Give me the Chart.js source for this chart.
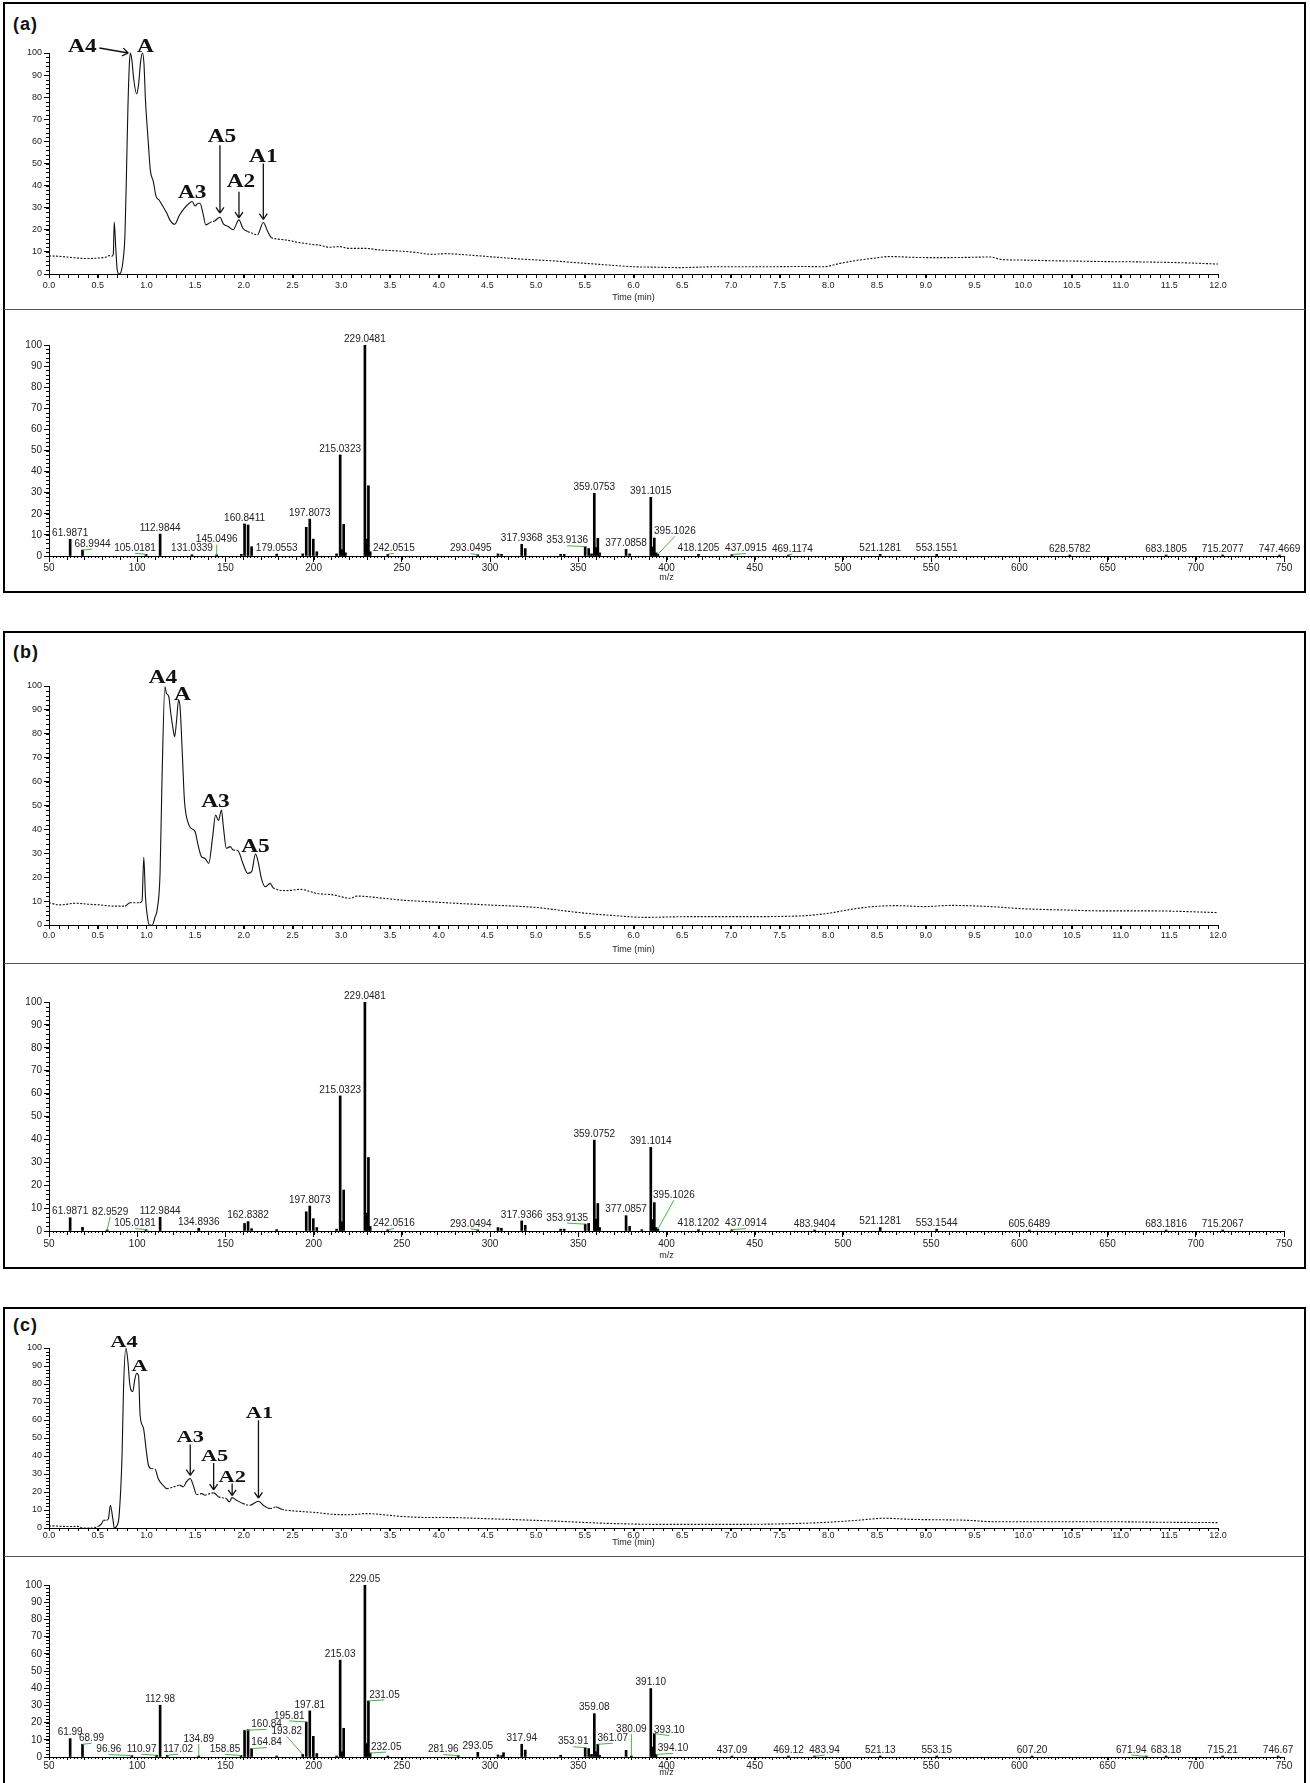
<!DOCTYPE html>
<html>
<head>
<meta charset="utf-8">
<script src="https://cdn.jsdelivr.net/npm/chart.js@4.4.1/dist/chart.umd.min.js"></script>
<style>
body{margin:0;background:#fff;width:1310px;height:1783px;overflow:hidden;position:relative}
canvas{position:absolute;left:0}
.panel{position:absolute;left:3px;width:1303px;border:2px solid #000;box-sizing:border-box}
.sep{position:absolute;left:4px;width:1301px;height:0;border-top:1.5px solid #555}
.tag{position:absolute;left:13px;font:bold 18px "Liberation Sans",Arial,sans-serif;line-height:18px;letter-spacing:1px;color:#111}
</style>
</head>
<body>
<div class="panel" style="top:2px;height:591px"></div>
<div class="panel" style="top:631px;height:638px"></div>
<div class="panel" style="top:1307px;height:490px"></div>
<div class="sep" style="top:309px"></div>
<div class="sep" style="top:963px"></div>
<div class="sep" style="top:1556px"></div>
<div class="tag" style="top:15px">(a)</div>
<div class="tag" style="top:643px">(b)</div>
<div class="tag" style="top:1316px">(c)</div>

<canvas id="chromA"></canvas>
<canvas id="specA"></canvas>
<canvas id="chromB"></canvas>
<canvas id="specB"></canvas>
<canvas id="chromC"></canvas>
<canvas id="specC"></canvas>

<script>
// ---- chromatograms (time in min, relative abundance %) ----
const timeA = [0, 0.1, 0.2, 0.3, 0.4, 0.5, 0.58, 0.62, 0.645, 0.66, 0.67, 0.685, 0.70, 0.72, 0.74, 0.76, 0.78, 0.795, 0.81, 0.825,
  0.835, 0.85, 0.87, 0.90, 0.92, 0.94, 0.96, 0.975, 0.99, 1.02, 1.04, 1.07, 1.10, 1.13, 1.17, 1.21, 1.24, 1.29, 1.34, 1.39,
  1.44, 1.47, 1.50, 1.53, 1.55, 1.58, 1.61, 1.65, 1.70, 1.755, 1.79, 1.84, 1.89, 1.95, 1.99, 2.04, 2.09, 2.14, 2.2, 2.245,
  2.28, 2.33, 2.43, 2.57, 2.70, 2.77, 2.88, 2.98, 3.08, 3.25, 3.39, 3.59, 3.76, 3.93, 4.07, 4.3, 4.59, 4.9, 5.15, 5.45,
  5.73, 6.0, 6.2, 6.47, 6.87, 7.2, 7.44, 7.7, 7.95, 8.12, 8.3, 8.46, 8.63, 8.9, 9.15, 9.4, 9.66, 9.77, 10.0, 10.29,
  10.6, 10.86, 11.15, 11.43, 11.7, 12.0];
const ticA = [8.2, 8.0, 7.6, 7.2, 7.0, 7.2, 7.6, 8.3, 8.0, 9.0, 23.5, 12, 2, 0, 1, 6, 18, 45, 75, 95,
  100, 97, 88, 81.5, 86, 96, 100, 95, 79, 59, 47, 42, 35, 33.5, 30.5, 27.5, 24.5, 22.5, 26.7, 29.8,
  32, 32.8, 30.8, 32, 32, 27.5, 22.2, 23.2, 24, 25.7, 22.7, 21.5, 20, 24.5, 20.7, 19.2, 18.4, 17.7, 23.3, 19.2,
  16.6, 15.9, 15.4, 14.2, 13.4, 13.1, 12.1, 12.4, 11.6, 11.6, 10.9, 10.4, 9.8, 8.9, 9.2, 8.6, 7.6, 6.6, 6.0, 5.0,
  4.1, 3.3, 3.1, 2.9, 3.3, 3.3, 3.3, 3.4, 3.3, 4.8, 6.2, 7.1, 7.9, 7.5, 7.4, 7.5, 7.7, 6.6, 6.3, 6.0,
  5.8, 5.6, 5.5, 5.3, 5.0, 4.5];
const peakNamesA = ['A4', 'A', 'A3', 'A5', 'A2', 'A1'];
const peakTimesA = [0.835, 0.96, 1.47, 1.755, 1.95, 2.2];

const timeB = [0, 0.11, 0.28, 0.4, 0.52, 0.66, 0.78, 0.83, 0.93, 0.955, 0.973, 0.99, 1.01, 1.03, 1.06, 1.09, 1.11, 1.14, 1.16, 1.19,
  1.205, 1.23, 1.25, 1.27, 1.29, 1.31, 1.33, 1.345, 1.37, 1.39, 1.43, 1.46, 1.50, 1.53, 1.565, 1.60, 1.64, 1.68, 1.71, 1.74,
  1.77, 1.79, 1.82, 1.86, 1.89, 1.94, 1.99, 2.04, 2.08, 2.12, 2.15, 2.18, 2.22, 2.27, 2.30, 2.44, 2.58, 2.75, 2.92, 3.09,
  3.16, 3.43, 3.60, 3.88, 4.08, 4.5, 4.98, 5.44, 5.78, 6.13, 6.58, 7.15, 7.72, 8.0, 8.24, 8.46, 8.69, 8.98, 9.26, 9.66,
  10.0, 10.4, 10.86, 11.32, 12.0];
const ticB = [9.3, 8.4, 9.1, 8.7, 8.4, 7.9, 7.9, 9.3, 9.3, 10, 28.3, 11.9, 3.5, 0, 0, 3.5, 6.3, 21.6, 60.7, 99.7,
  97, 95.5, 88.6, 83, 78.8, 85.8, 94.1, 91.4, 70.4, 52.3, 42.5, 40.4, 39, 33.5, 28.6, 27.9, 25.8, 37, 46, 43.7,
  48.1, 41.1, 32.1, 32.8, 31.4, 31.1, 25.8, 21.6, 22.3, 29.7, 25.8, 19.5, 16, 17.4, 15.6, 14.4, 14.9, 13.2, 12.6, 11.2,
  12.1, 11.2, 10.5, 9.8, 9.3, 8.4, 7.4, 5.2, 4.0, 3.2, 3.5, 3.5, 3.8, 4.9, 6.6, 7.7, 8.1, 7.7, 8.2, 7.7,
  6.8, 6.3, 5.9, 5.9, 5.2];
const peakNamesB = ['A4', 'A', 'A3', 'A5'];
const peakTimesB = [1.19, 1.33, 1.77, 2.12];

const timeC = [0, 0.05, 0.1, 0.2, 0.29, 0.35, 0.45, 0.51, 0.54, 0.56, 0.59, 0.61, 0.63, 0.655, 0.67, 0.70, 0.72, 0.75, 0.765, 0.79,
  0.81, 0.83, 0.86, 0.88, 0.90, 0.92, 0.935, 0.97, 1.0, 1.02, 1.05, 1.09, 1.12, 1.17, 1.21, 1.28, 1.34, 1.38, 1.41, 1.45,
  1.48, 1.515, 1.57, 1.60, 1.65, 1.69, 1.74, 1.79, 1.82, 1.85, 1.88, 1.925, 1.99, 2.06, 2.15, 2.20, 2.27, 2.33, 2.39, 2.51,
  2.74, 2.91, 3.09, 3.26, 3.43, 3.6, 3.94, 4.07, 4.59, 5.16, 5.72, 6.29, 6.86, 7.44, 8.0, 8.3, 8.57, 8.85, 9.42, 9.7,
  10.27, 10.84, 11.41, 12.0];
const ticC = [1.1, 1.2, 1.0, 0.8, 0.9, 0, 0, 1.0, 2.4, 4.3, 4.3, 5.2, 12.6, 5.2, 0, 1.5, 7, 40.5, 77.7, 100,
  92.5, 79.6, 75.8, 82.3, 86, 84.2, 62.8, 55.4, 42.4, 35, 33, 32.7, 27.5, 23.8, 21.9, 22.9, 23.8, 22.9, 25.6, 27.5,
  23.8, 18.6, 19.1, 18.2, 19.1, 19.5, 17.3, 16.7, 16.4, 14.5, 16.9, 15.4, 13.6, 12.6, 14.9, 12.6, 10.8, 11.7, 10.4, 9.5,
  8.6, 7.6, 7.4, 8.0, 7.4, 6.5, 5.8, 5.8, 5.0, 3.9, 2.6, 2.0, 2.0, 2.2, 3.2, 4.3, 5.4, 4.8, 4.3, 3.5,
  3.5, 3.5, 3.2, 3.0];
const peakNamesC = ['A4', 'A', 'A3', 'A5', 'A2', 'A1'];
const peakTimesC = [0.79, 0.90, 1.45, 1.69, 1.88, 2.15];

// ---- mass spectra (m/z, relative intensity %) ----
const mzA = [61.9871, 68.9944, 105.0181, 112.9844, 131.0339, 145.0496, 159.0, 160.8411, 162.84, 164.84, 179.0553, 193.8, 195.81,
  197.8073, 199.81, 201.8, 213.0, 215.0323, 216.0, 217.03, 218.0, 229.0481, 230.05, 231.05, 232.05, 242.0515, 293.0495,
  304.5, 306.5, 317.9368, 319.94, 340.0, 342.0, 353.9136, 355.9, 357.5, 359.0753, 360.08, 361.07, 362.1, 377.0858, 379.1,
  391.1015, 392.1, 393.1, 394.1, 395.1026, 418.1205, 437.0915, 469.1174, 521.1281, 553.1551, 628.5782, 683.1805, 715.2077, 747.4669];
const intA = [7.9, 2.8, 0.8, 10.4, 0.6, 0.6, 0.8, 15.2, 14.7, 4.4, 0.9, 1.0, 13.6,
  17.5, 8.0, 2.0, 1.0, 47.9, 3.0, 15.0, 1.5, 100, 8.0, 33.3, 2.0, 0.8, 0.6,
  1.0, 0.8, 5.5, 3.5, 0.8, 0.8, 4.4, 3.5, 1.0, 29.7, 4.0, 8.4, 1.5, 3.2, 1.0,
  27.8, 4.3, 8.5, 1.5, 0.8, 0.8, 0.7, 0.4, 0.8, 0.8, 0.3, 0.3, 0.3, 0.3];
const labelsA = ['61.9871', '68.9944', '105.0181', '112.9844', '131.0339', '145.0496', '160.8411', '179.0553', '197.8073',
  '215.0323', '229.0481', '242.0515', '293.0495', '317.9368', '353.9136', '359.0753', '377.0858', '391.1015', '395.1026',
  '418.1205', '437.0915', '469.1174', '521.1281', '553.1551', '628.5782', '683.1805', '715.2077', '747.4669'];

const mzB = [61.9871, 68.99, 82.9529, 105.0181, 112.9844, 134.8936, 160.84, 162.8382, 164.84, 179.05, 195.81, 197.8073, 199.81,
  201.8, 213.0, 215.0323, 216.0, 217.03, 229.0481, 230.05, 231.05, 232.05, 242.0516, 293.0494, 304.5, 306.4, 317.9366,
  319.94, 340.0, 342.0, 353.9135, 355.9, 359.0752, 360.08, 361.07, 362.1, 377.0857, 379.1, 386.0, 391.1014, 392.1, 393.1,
  394.1, 395.1026, 418.1202, 437.0914, 483.9404, 521.1281, 553.1544, 605.6489, 683.1816, 715.2067];
const intB = [5.8, 1.6, 0.5, 0.6, 6.0, 1.2, 3.3, 4.1, 1.0, 0.6, 8.4, 10.9, 5.4,
  1.5, 0.8, 59, 4, 17.9, 100, 7.8, 32.1, 2.0, 0.6, 0.5, 1.5, 1.2, 4.4,
  2.5, 0.8, 0.8, 3.0, 3.3, 39.7, 5.2, 12, 1.5, 6.7, 2.0, 0.6, 36.5, 5, 12.4,
  1.5, 0.8, 0.6, 0.6, 0.4, 1.5, 0.8, 0.3, 0.3, 0.3];
const labelsB = ['61.9871', '82.9529', '105.0181', '112.9844', '134.8936', '162.8382', '197.8073', '215.0323', '229.0481',
  '242.0516', '293.0494', '317.9366', '353.9135', '359.0752', '377.0857', '391.1014', '395.1026', '418.1202', '437.0914',
  '483.9404', '521.1281', '553.1544', '605.6489', '683.1816', '715.2067'];

const mzC = [61.99, 68.99, 96.96, 110.97, 112.98, 117.02, 134.89, 158.85, 160.84, 162.84, 164.84, 179.05, 193.82, 195.81,
  197.81, 199.81, 201.8, 213.0, 215.03, 216.0, 217.03, 229.05, 230.05, 231.05, 232.05, 242.05, 281.96, 293.05, 304.5,
  306.5, 307.6, 317.94, 319.94, 340.0, 353.91, 355.9, 357.5, 359.08, 360.08, 361.07, 362.1, 377.09, 380.09, 391.10,
  392.1, 393.10, 394.10, 437.09, 469.12, 483.94, 521.13, 553.15, 607.20, 671.94, 683.18, 715.21, 746.67];
const intC = [10.7, 7.4, 0.8, 1.0, 30.1, 1.0, 0.6, 0.9, 15.5, 15.9, 4.9, 0.6, 1.5, 20.4,
  26.8, 12, 2, 0.6, 56.3, 3, 16.7, 100, 7.8, 32.6, 2.3, 0.5, 0.8, 2.7, 1.2,
  0.8, 2.5, 7.4, 4, 1, 5.4, 4.9, 1.5, 25.2, 3, 7.4, 1, 3.9, 0.6, 39.8,
  5.8, 13.6, 1.5, 0.5, 0.6, 0.4, 0.6, 0.6, 0.3, 0.3, 0.3, 0.3, 0.3];
const labelsC = ['61.99', '68.99', '96.96', '110.97', '112.98', '117.02', '134.89', '158.85', '160.84', '164.84', '193.82',
  '195.81', '197.81', '215.03', '229.05', '231.05', '232.05', '281.96', '293.05', '317.94', '353.91', '359.08', '361.07',
  '380.09', '391.10', '393.10', '394.10', '437.09', '469.12', '483.94', '521.13', '553.15', '607.20', '671.94', '683.18',
  '715.21', '746.67'];

// ---- layout only: label shifts in px (green leader lines), text/arrow offsets ----
const nudgeA = {'68.9944': [10, 0], '105.0181': [-11, 0], '145.0496': [0, -9], '242.0515': [6, 0], '293.0495': [-7, 0],
  '353.9136': [-18, 0], '395.1026': [17, -17], '437.0915': [14, 0], '469.1174': [4, 0]};
const nudgeB = {'82.9529': [3, -12], '105.0181': [-11, 0], '242.0516': [6, 0], '293.0494': [-7, 0], '353.9135': [-18, 0],
  '395.1026': [16, -28], '437.0914': [14, 0]};
const nudgeC = {'68.99': [9, 0], '96.96': [-23, 0], '110.97': [-15, 0], '117.02': [11, 0], '134.89': [0, -11],
  '158.85': [-16, 0], '160.84': [22, 0], '164.84': [15, 0], '193.82': [-16, -17], '195.81': [-17, 0], '231.05': [16, 0],
  '232.05': [16, 0], '281.96': [-15, 0], '353.91': [-12, 0], '361.07': [15, 0], '380.09': [0, -21], '393.10': [15, 3],
  '394.10': [17, 0], '483.94': [10, 0], '671.94': [-15, 0]};

const annLayoutA = [{dx: -48, dy: -1, arrow: [-31, -5, -2, 0]}, {dx: 3, dy: -1}, {dx: 0, dy: -4},
  {dx: 2, dy: -75, arrow: [0, -72, 0, -4]}, {dx: 2, dy: -33, arrow: [0, -28, 0, -2]}, {dx: 0, dy: -61, arrow: [0, -59, 0, -3]}];
const annLayoutB = [{dx: -2, dy: -4}, {dx: 4, dy: 0}, {dx: -6, dy: -3}, {dx: 0, dy: -2}];
const annLayoutC = [{dx: -2, dy: -1}, {dx: 3, dy: -2}, {dx: 0, dy: -37, arrow: [0, -34, 0, -3]},
  {dx: 1, dy: -32, arrow: [0, -30, 0, -3]}, {dx: 0, dy: -16, arrow: [0, -14, 0, -2]}, {dx: 1, dy: -83, arrow: [0, -81, 0, -3]}];

const FONT = '"Liberation Sans", Arial, sans-serif';

function nearest(arr, v) {
  let best = arr[0];
  arr.forEach(p => { if (Math.abs(p.x - v) < Math.abs(best.x - v)) best = p; });
  return best;
}

// small ticks + axis title
const minorTicks = {
  id: 'minorTicks',
  afterDraw(chart, args, o) {
    const {ctx, chartArea: a, scales: {x, y}} = chart;
    ctx.save();
    ctx.strokeStyle = '#000';
    ctx.lineWidth = 1;
    ctx.beginPath();
    (o.x || []).forEach(m => {
      const n = Math.round((x.max - x.min) / m.step);
      for (let i = 0; i <= n; i++) {
        const px = Math.round(x.getPixelForValue(x.min + i * m.step)) + 0.5;
        ctx.moveTo(px, a.bottom); ctx.lineTo(px, a.bottom + m.len);
      }
    });
    (o.y || []).forEach(m => {
      const n = Math.round((y.max - y.min) / m.step);
      for (let i = 0; i <= n; i++) {
        const py = Math.round(y.getPixelForValue(y.min + i * m.step)) + 0.5;
        ctx.moveTo(a.left - m.len, py); ctx.lineTo(a.left, py);
      }
    });
    ctx.stroke();
    ctx.fillStyle = '#222';
    ctx.font = '9px ' + FONT;
    ctx.textAlign = 'center';
    ctx.textBaseline = 'middle';
    ctx.fillText(o.title, (a.left + a.right) / 2, a.bottom + o.titleOffset);
    ctx.restore();
  }
};

// A, A1..A5 marks on the chromatograms
const peakNames = {
  id: 'peakNames',
  afterDatasetsDraw(chart, args, o) {
    const {ctx, scales: {x, y}} = chart;
    const pts = chart.data.datasets[0].data;
    ctx.save();
    ctx.fillStyle = '#111';
    ctx.strokeStyle = '#111';
    ctx.lineWidth = 1.3;
    ctx.font = 'bold ' + o.size + 'px "Liberation Serif", "Times New Roman", serif';
    ctx.textAlign = 'center';
    o.names.forEach((name, i) => {
      const p = nearest(pts, o.times[i]);
      const px = x.getPixelForValue(p.x), py = y.getPixelForValue(p.y);
      const L = o.layout[i];
      ctx.save();
      ctx.translate(px + L.dx, py + L.dy);
      ctx.scale(o.stretch, 1);
      ctx.fillText(name, 0, 0);
      ctx.restore();
      if (L.arrow) {
        const ax = px + L.arrow[0], ay = py + L.arrow[1], bx = px + L.arrow[2], by = py + L.arrow[3];
        const ang = Math.atan2(by - ay, bx - ax);
        ctx.beginPath();
        ctx.moveTo(ax, ay); ctx.lineTo(bx, by);
        [-1, 1].forEach(s => {
          const h = ang + Math.PI + s * 0.6;
          ctx.moveTo(bx, by); ctx.lineTo(bx + 7 * Math.cos(h), by + 7 * Math.sin(h));
        });
        ctx.stroke();
      }
    });
    ctx.restore();
  }
};

// m/z value labels on the spectra
const mzLabels = {
  id: 'mzLabels',
  afterDatasetsDraw(chart, args, o) {
    const {ctx, chartArea: a, scales: {x, y}} = chart;
    const pts = chart.data.datasets[0].data;
    ctx.save();
    ctx.font = '10px ' + FONT;
    ctx.textAlign = 'center';
    ctx.textBaseline = 'middle';
    o.labels.forEach(txt => {
      const p = nearest(pts, parseFloat(txt));
      const px = x.getPixelForValue(p.x), top = y.getPixelForValue(p.y);
      const nd = o.nudge[txt];
      const cx = px + (nd ? nd[0] : 0);
      const cy = Math.min(top - 6, a.bottom - 7) + (nd ? nd[1] : 0);
      if (nd) {
        ctx.strokeStyle = '#3cb93c';
        ctx.lineWidth = 1;
        ctx.beginPath();
        ctx.moveTo(cx, cy + 5);
        ctx.lineTo(px, Math.min(top, a.bottom));
        ctx.stroke();
      }
      ctx.fillStyle = '#222';
      ctx.fillText(txt, cx, cy);
    });
    ctx.restore();
  }
};

const dotted = c => Math.abs(c.p1.y - c.p0.y) < 0.4 * Math.abs(c.p1.x - c.p0.x) ? [2, 1.5] : undefined;

function setCanvas(id, top, height) {
  const cv = document.getElementById(id);
  cv.width = 1310; cv.height = height;
  cv.style.top = top + 'px';
  return cv;
}

// padding so that the plot area lands on the given page pixels
function frame(top, height, y100, y0, right) {
  return {top: y100 - top, bottom: height - (y0 - top) - 20, left: 9, right: 1310 - right};
}

function yAxis(size) {
  return {
    min: 0, max: 100,
    afterFit: s => { s.width = 40; },
    border: {color: '#000'},
    grid: {drawOnChartArea: false, tickLength: 5, color: '#000'},
    ticks: {stepSize: 10, autoSkip: false, padding: 2, color: '#222', font: {family: FONT, size: size}}
  };
}

function chrom(id, top, height, y100, y0, times, tic, names, ptimes, layout, opt) {
  return new Chart(setCanvas(id, top, height), {
    type: 'line',
    data: {datasets: [{
      data: times.map((t, i) => ({x: t, y: tic[i]})),
      borderColor: '#111', borderWidth: 1.1, pointRadius: 0,
      cubicInterpolationMode: 'monotone', clip: 6,
      segment: {borderDash: dotted}
    }]},
    options: {
      responsive: false, animation: false, events: [],
      layout: {autoPadding: false, padding: frame(top, height, y100, y0, 1218)},
      plugins: {
        legend: {display: false}, tooltip: {enabled: false},
        minorTicks: {x: [{step: 0.1, len: opt.tick}], y: [{step: 2, len: 3}], title: 'Time (min)', titleOffset: opt.title},
        peakNames: {names: names, times: ptimes, layout: layout, size: opt.size, stretch: opt.stretch}
      },
      scales: {
        x: {
          type: 'linear', min: 0, max: 12,
          afterFit: s => { s.height = 20; },
          border: {color: '#000'},
          grid: {drawOnChartArea: false, tickLength: opt.tick, color: '#000'},
          ticks: {stepSize: 0.5, autoSkip: false, maxRotation: 0, padding: opt.pad, color: '#222',
            font: {family: FONT, size: 9}, callback: v => v.toFixed(1)}
        },
        y: yAxis(9)
      }
    },
    plugins: [minorTicks, peakNames]
  });
}

function spectrum(id, top, height, y100, y0, mz, inten, labels, nudge, opt) {
  return new Chart(setCanvas(id, top, height), {
    type: 'bar',
    data: {datasets: [{
      data: mz.map((m, i) => ({x: m, y: inten[i]})),
      backgroundColor: '#000', barThickness: 2, minBarLength: 1
    }]},
    options: {
      responsive: false, animation: false, events: [],
      layout: {autoPadding: false, padding: frame(top, height, y100, y0, 1284)},
      plugins: {
        legend: {display: false}, tooltip: {enabled: false},
        minorTicks: {x: [{step: 2, len: 2}, {step: 10, len: opt.mid}], y: [{step: 2, len: 3}], title: 'm/z', titleOffset: opt.title},
        mzLabels: {labels: labels, nudge: nudge}
      },
      scales: {
        x: {
          type: 'linear', min: 50, max: 750, offset: false,
          afterFit: s => { s.height = 20; },
          border: {color: '#000'},
          grid: {drawOnChartArea: false, offset: false, tickLength: opt.tick, color: '#000'},
          ticks: {stepSize: 50, autoSkip: false, maxRotation: 0, padding: opt.pad, color: '#222',
            font: {family: FONT, size: 10}, callback: v => v}
        },
        y: yAxis(10)
      }
    },
    plugins: [minorTicks, mzLabels]
  });
}

chrom('chromA', 5, 302, 53, 274, timeA, ticA, peakNamesA, peakTimesA, annLayoutA, {tick: 4, pad: 2, title: 23.5, size: 18, stretch: 1.3});
spectrum('specA', 311, 279, 345, 556, mzA, intA, labelsA, nudgeA, {tick: 6, mid: 4, pad: 0, title: 22});

chrom('chromB', 634, 327, 686, 925, timeB, ticB, peakNamesB, peakTimesB, annLayoutB, {tick: 4, pad: 1, title: 25, size: 18, stretch: 1.3});
spectrum('specB', 965, 301, 1002, 1231, mzB, intB, labelsB, nudgeB, {tick: 6, mid: 4, pad: 1, title: 25});

chrom('chromC', 1310, 244, 1348, 1528, timeC, ticC, peakNamesC, peakTimesC, annLayoutC, {tick: 3, pad: -1, title: 15, size: 16, stretch: 1.4});
spectrum('specC', 1558, 225, 1585, 1757, mzC, intC, labelsC, nudgeC, {tick: 3, mid: 3, pad: 0, title: 16});
</script>
</body>
</html>
